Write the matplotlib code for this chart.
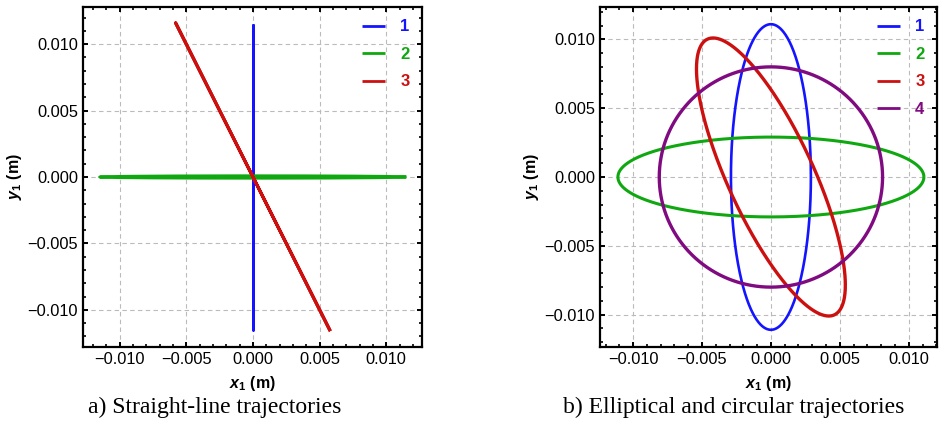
import numpy as np
import matplotlib
matplotlib.use("Agg")
import matplotlib.pyplot as plt
from matplotlib.ticker import MultipleLocator, FuncFormatter

plt.rcParams['font.family'] = ['Liberation Sans', 'DejaVu Sans']
plt.rcParams['mathtext.fontset'] = 'custom'
plt.rcParams['mathtext.rm'] = 'Liberation Sans:bold'
plt.rcParams['mathtext.it'] = 'Liberation Sans:italic:bold'
plt.rcParams['mathtext.bf'] = 'Liberation Sans:bold'
plt.rcParams['axes.unicode_minus'] = True

# ---- data: trajectories described by amplitudes (m) and phase (deg) ----
labels_a = ['1', '2', '3']
ax_amp_a = [0.0, 0.0115, 0.0058]      # x amplitude
ay_amp_a = [0.0115, 0.00009, 0.0116]  # y amplitude
phase_a = [0.0, 90.0, 180.0]          # phase of y relative to x

labels_b = ['1', '2', '3', '4']
ax_amp_b = [0.0029, 0.0111, 0.0054, 0.0081]
ay_amp_b = [0.0111, 0.0029, 0.0101, 0.0080]
phase_b = [90.0, 90.0, 141.0, 90.0]

colors_a = ['#1414ff', '#10a810', '#cc1010']
colors_b = ['#1414ff', '#10a810', '#cc1010', '#800a80']
widths_a = [1.8, 2.1, 2.3]
widths_b = [1.9, 2.2, 2.4, 2.4]

xlim_a = (-0.01275, 0.01268)
ylim_a = (-0.0128, 0.0128)
xlim_b = (-0.0124, 0.01205)
ylim_b = (-0.01235, 0.01235)

caption_a = 'a) Straight-line trajectories'
caption_b = 'b) Elliptical and circular trajectories'

fig = plt.figure(figsize=(9.39, 4.22), dpi=100)
W, H = 939, 422
axA = fig.add_axes([83 / W, 1 - 347 / H, (422 - 83) / W, (347 - 7) / H])
axB = fig.add_axes([600 / W, 1 - 347 / H, (937 - 600) / W, (347 - 7) / H])

t = np.linspace(0, 2 * np.pi, 721)

fmt = FuncFormatter(lambda v, p: ('%.3f' % v).replace('-', '\u2212'))


def style(ax, xlim, ylim):
    ax.set_xlim(*xlim)
    ax.set_ylim(*ylim)
    ax.xaxis.set_major_locator(MultipleLocator(0.005))
    ax.yaxis.set_major_locator(MultipleLocator(0.005))
    ax.xaxis.set_minor_locator(MultipleLocator(0.001))
    ax.yaxis.set_minor_locator(MultipleLocator(0.001))
    ax.xaxis.set_major_formatter(fmt)
    ax.yaxis.set_major_formatter(fmt)
    ax.tick_params(which='both', direction='in', top=True, right=True,
                   labelsize=11.8, color='black')
    ax.tick_params(which='major', length=3.5, width=1.4, pad=3.5)
    ax.tick_params(which='minor', length=2, width=1.2)
    for s in ax.spines.values():
        s.set_linewidth(1.6)
    ax.grid(True, which='major', color='#bbbbbb', linestyle=(0, (4, 3)), linewidth=0.8)
    ax.set_axisbelow(True)
    ax.set_xlabel(r'$x_1$ (m)', fontsize=11.5, fontweight='bold', labelpad=5)
    ax.set_ylabel(r'$y_1$ (m)', fontsize=11.5, fontweight='bold', labelpad=2.5)


def draw(ax, labels, axa, aya, ph, cols, lws):
    for lab, a, b, p, c, lw in zip(labels, axa, aya, ph, cols, lws):
        x = a * np.cos(t)
        y = b * np.cos(t - np.deg2rad(p))
        ax.plot(x, y, color=c, lw=lw, label=lab, solid_capstyle='butt')
    leg = ax.legend(loc='upper right', frameon=False, handlelength=1.4,
                    handletextpad=0.9, labelspacing=0.75, borderaxespad=0.35,
                    prop={'weight': 'bold', 'size': 12}, labelcolor='linecolor')
    for h in leg.get_lines():
        h.set_linewidth(2.0)


draw(axA, labels_a, ax_amp_a, ay_amp_a, phase_a, colors_a, widths_a)
style(axA, xlim_a, ylim_a)
draw(axB, labels_b, ax_amp_b, ay_amp_b, phase_b, colors_b, widths_b)
style(axB, xlim_b, ylim_b)

fig.text(215 / W, 1 - 407 / H, caption_a, family='Liberation Serif', fontsize=17,
         ha='center', va='center')
fig.text(734 / W, 1 - 407 / H, caption_b, family='Liberation Serif', fontsize=17,
         ha='center', va='center')

fig.savefig('out.png', dpi=100)
